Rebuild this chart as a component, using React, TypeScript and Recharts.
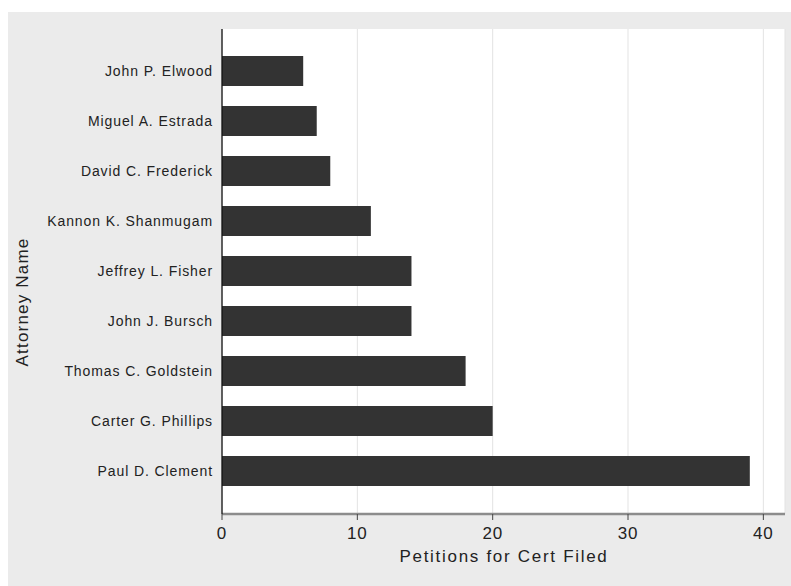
import React from "react";
import { BarChart, Bar, XAxis, YAxis, CartesianGrid, Label } from "recharts";

const attorneys = [
  "John P. Elwood",
  "Miguel A. Estrada",
  "David C. Frederick",
  "Kannon K. Shanmugam",
  "Jeffrey L. Fisher",
  "John J. Bursch",
  "Thomas C. Goldstein",
  "Carter G. Phillips",
  "Paul D. Clement",
];
const petitions = [6, 7, 8, 11, 14, 14, 18, 20, 39];
const xTicks = [0, 10, 20, 30, 40];
const xTitle = "Petitions for Cert Filed";
const yTitle = "Attorney Name";

const data = attorneys.map((name, i) => ({ name, value: petitions[i] }));
const FONT = '"Liberation Sans", Arial, Helvetica, sans-serif';

export default function App() {
  return (
    <div
      style={{
        position: "fixed",
        top: 12,
        left: 8,
        width: 783,
        height: 574,
        background: "#ebebeb",
      }}
    >
      <BarChart
        width={783}
        height={574}
        data={data}
        layout="vertical"
        margin={{ top: 17, right: 6, bottom: 0, left: 0 }}
        style={{ fontFamily: FONT }}
      >
        <CartesianGrid
          horizontal={false}
          stroke="#e3e3e3"
          fill="#ffffff"
          fillOpacity={1}
        />
        <XAxis
          type="number"
          domain={[0, 41.6]}
          ticks={xTicks}
          height={72}
          axisLine={{ stroke: "#8c8c8c", strokeWidth: 2.5 }}
          tickLine={{ stroke: "#444" }}
          tickSize={6}
          tickMargin={7}
          tick={{ fill: "#222", fontSize: 17, letterSpacing: 0.8, fontFamily: FONT }}
        >
          <Label
            content={() => (
              <text
                x={496}
                y={550}
                textAnchor="middle"
                fill="#222"
                fontSize={17}
                letterSpacing={1.7}
                fontFamily={FONT}
              >
                {xTitle}
              </text>
            )}
          />
        </XAxis>
        <YAxis
          type="category"
          dataKey="name"
          width={214}
          padding={{ top: 17, bottom: 18 }}
          axisLine={{ stroke: "#111", strokeWidth: 1.3 }}
          tickLine={false}
          tickSize={0}
          tickMargin={9}
          interval={0}
          tick={{ fill: "#222", fontSize: 14, letterSpacing: 0.9, fontFamily: FONT }}
        >
          <Label
            content={() => (
              <text
                x={14}
                y={290}
                transform="rotate(-90, 14, 290)"
                textAnchor="middle"
                dominantBaseline="central"
                fill="#222"
                fontSize={17}
                letterSpacing={1.2}
                fontFamily={FONT}
              >
                {yTitle}
              </text>
            )}
          />
        </YAxis>
        <Bar dataKey="value" fill="#333333" barSize={30} isAnimationActive={false} />
      </BarChart>
    </div>
  );
}
